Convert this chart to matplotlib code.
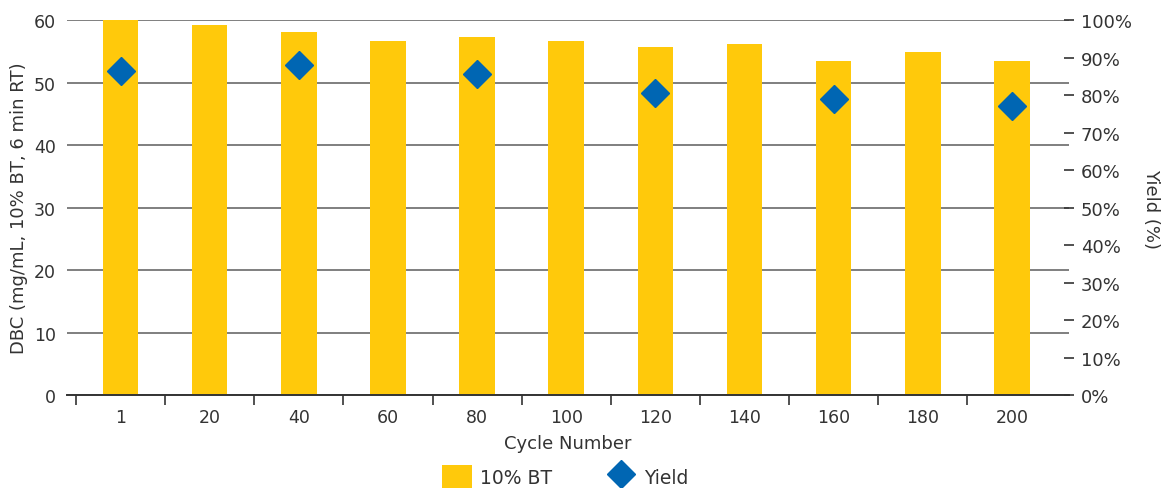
import matplotlib.pyplot as plt
import numpy as np
from matplotlib.ticker import FixedLocator, PercentFormatter

# Data
cycles = ["1", "20", "40", "60", "80", "100", "120", "140", "160", "180", "200"]
dbc_10bt = [60.0, 59.2, 58.1, 56.7, 57.3, 56.6, 55.7, 56.2, 53.4, 54.9, 53.4]
yield_cycles = ["1", "40", "80", "120", "160", "200"]
yield_pct = [86.3, 88.1, 85.7, 80.5, 78.9, 77.1]

BAR_COLOR = "#FFC90B"
DIAMOND_COLOR = "#0066B3"
TEXT_COLOR = "#333333"


def main():
    plt.rcParams["font.family"] = ["DejaVu Sans"]
    plt.rcParams["font.size"] = 12.5

    fig = plt.figure(figsize=(11.66, 4.89), dpi=100)
    ax = fig.add_axes([0.0575, 0.19, 0.8593, 0.767])

    x = np.arange(len(cycles))
    bars = ax.bar(x, dbc_10bt, width=0.4, color=BAR_COLOR, zorder=2, label="10% BT")

    ax.set_ylim(0, 60)
    ax.set_yticks(np.arange(0, 61, 10))
    ax.set_xlim(-0.6, len(cycles) - 1 + 0.64)
    ax.set_xticks(x)
    ax.set_xticklabels(cycles)
    # tick marks sit between the categories
    ax.xaxis.set_minor_locator(FixedLocator(np.arange(-0.5, len(cycles) - 1, 1.0)))
    ax.tick_params(axis="x", which="major", length=0, pad=9, colors=TEXT_COLOR)
    ax.tick_params(axis="x", which="minor", length=7, width=1.2, color=TEXT_COLOR)
    ax.tick_params(axis="y", length=0, pad=8, colors=TEXT_COLOR)
    ax.grid(axis="y", color="#7f7f7f", linewidth=1.4, zorder=0)
    ax.set_axisbelow(True)
    for side in ["left", "right", "top"]:
        ax.spines[side].set_visible(False)
    ax.spines["bottom"].set_color(TEXT_COLOR)
    ax.spines["bottom"].set_linewidth(1.4)
    ax.spines["bottom"].set_zorder(3)
    ax.set_xlabel("Cycle Number", fontsize=13, color=TEXT_COLOR, labelpad=6)
    ax.set_ylabel("DBC (mg/mL, 10% BT, 6 min RT)", fontsize=13, color=TEXT_COLOR, labelpad=4)

    # Yield on the secondary axis
    ax2 = ax.twinx()
    yx = [cycles.index(c) for c in yield_cycles]
    pts, = ax2.plot(yx, yield_pct, linestyle="none", marker="D", markersize=14,
                    color=DIAMOND_COLOR, zorder=4, label="Yield")
    ax2.set_ylim(0, 100)
    ax2.set_yticks(np.arange(0, 101, 10))
    ax2.yaxis.set_major_formatter(PercentFormatter(decimals=0))
    ax2.tick_params(axis="y", direction="inout", length=7, width=1.2,
                    color=TEXT_COLOR, colors=TEXT_COLOR, pad=5, labelsize=13)
    for side in ["left", "right", "top", "bottom"]:
        ax2.spines[side].set_visible(False)
    ax2.set_ylabel("Yield (%)", fontsize=13, color=TEXT_COLOR, rotation=-90, labelpad=20)

    fig.legend(handles=[bars, pts], labels=["10% BT", "Yield"], loc="lower center",
               bbox_to_anchor=(0.4846, -0.035), ncol=2, frameon=False,
               fontsize=13.5, handlelength=1.6, handleheight=1.5, handletextpad=0.4,
               columnspacing=2.9, markerscale=1.0, labelcolor=TEXT_COLOR)

    plt.savefig("out.png", dpi=100)


if __name__ == "__main__":
    main()
